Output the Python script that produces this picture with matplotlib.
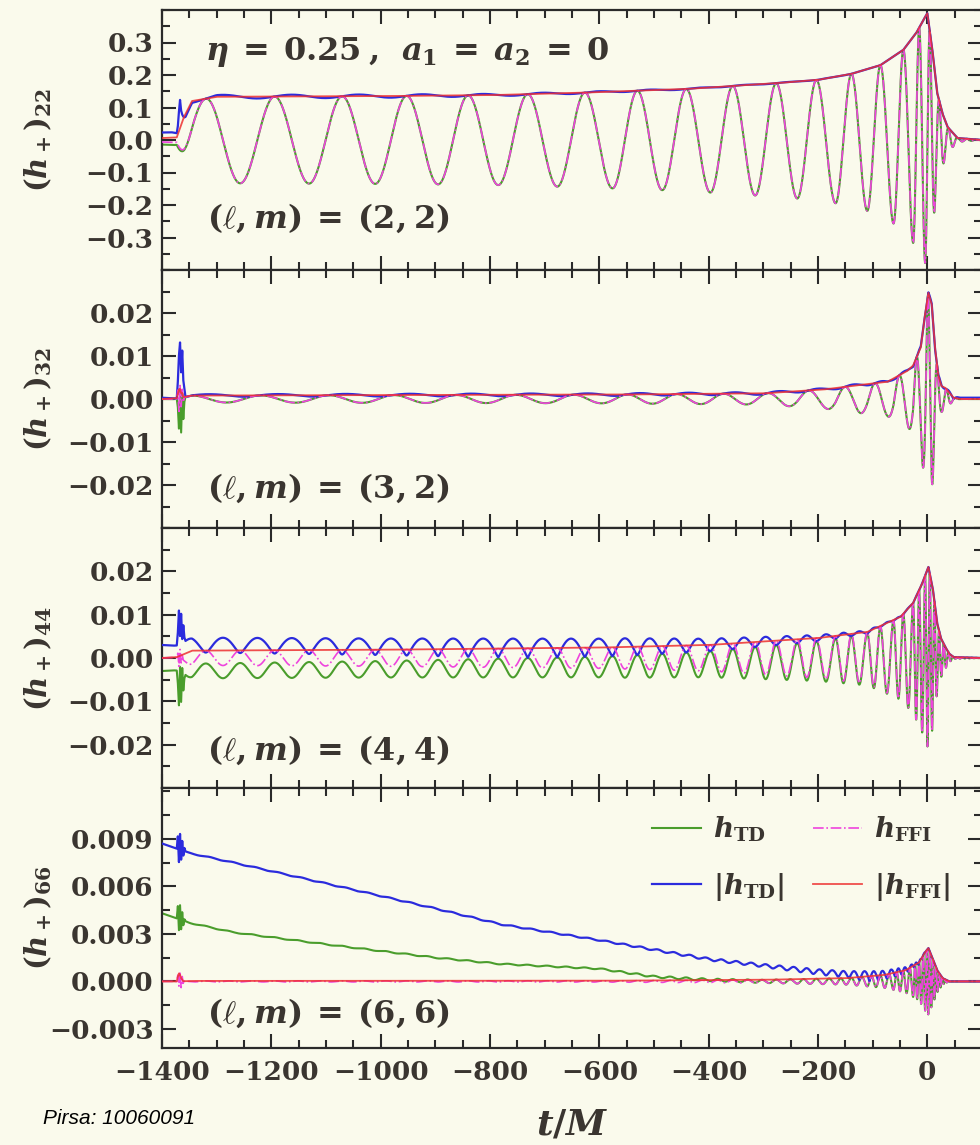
import numpy as np
import matplotlib
matplotlib.use("Agg")
import matplotlib.pyplot as plt
from matplotlib.ticker import MultipleLocator, FixedLocator, FuncFormatter

plt.rcParams['font.family'] = ['DejaVu Serif']
plt.rcParams['font.weight'] = 'bold'
plt.rcParams['mathtext.fontset'] = 'custom'
plt.rcParams['mathtext.rm'] = 'DejaVu Serif:bold'
plt.rcParams['mathtext.it'] = 'DejaVu Serif:italic:bold'
plt.rcParams['mathtext.bf'] = 'DejaVu Serif:bold'
plt.rcParams['mathtext.sf'] = 'DejaVu Serif:bold'
plt.rcParams['axes.unicode_minus'] = True

# ---------------------------------------------------------------- data
# times of the (2,2) troughs, t/M
troughs_22 = [-1383, -1257, -1131, -1010, -895, -785, -677, -576, -485, -397,
              -315, -238, -168, -110, -62, -26, -4, 13, 30, 47, 64, 81, 98, 115]

# amplitude |h_FFI| of each mode: (time, value) pairs
amp22_t = [-1400, -1373, -1360, -1345, -1300, -1000, -800, -640, -440, -275,
           -200, -140, -86, -44, -20, -7, 0, 9, 18, 28, 37, 55, 100]
amp22_v = [0.006, 0.008, 0.07, 0.12, 0.133, 0.135, 0.138, 0.145, 0.157, 0.175,
           0.185, 0.203, 0.23, 0.277, 0.33, 0.37, 0.39, 0.28, 0.145, 0.08, 0.04, 0.006, 0.0]

amp32_t = [-1400, -1373, -1345, -1000, -600, -300, -190, -128, -73, -37, -26,
           -12, -5, 2, 8, 14, 20, 26, 33, 40, 48, 60, 100]
amp32_v = [0.0, 0.0002, 0.0008, 0.0009, 0.001, 0.0013, 0.0022, 0.0032, 0.004,
           0.0065, 0.0078, 0.012, 0.019, 0.0247, 0.022, 0.012, 0.0055, 0.003,
           0.0026, 0.0015, 0.0003, 0.0, 0.0]

amp44_t = [-1400, -1373, -1345, -1000, -600, -400, -200, -110, -49, -26, -10,
           2, 10, 18, 25, 33, 40, 48, 100]
amp44_v = [0.0, 0.0002, 0.0017, 0.0019, 0.0024, 0.003, 0.0046, 0.006, 0.0095,
           0.0127, 0.017, 0.021, 0.016, 0.008, 0.0045, 0.0025, 0.001, 0.0002, 0.0]

amp66_t = [-1400, -1373, -1345, -600, -300, -150, -80, -40, -15, -5, 2, 10, 18, 28, 40, 100]
amp66_v = [0.0, 0.0, 0.00003, 0.00004, 0.0001, 0.0002, 0.0004, 0.0007, 0.0012,
           0.0018, 0.0021, 0.0014, 0.0007, 0.0002, 0.0, 0.0]

# drift of the time-domain integration: real part and modulus
drift22_t = [-1400, -1373, -1350, -1000, -500, -100, 100]
drift22_re = [-0.008, -0.008, 0.0, 0.0, 0.0, 0.0, 0.0]
drift22_abs = [0.02, 0.02, 0.006, 0.005, 0.002, 0.0, 0.0]

drift32_t = [-1400, 100]
drift32_re = [0.0, 0.0]
drift32_abs = [0.0003, 0.0003]

drift44_t = [-1400, -1340, -1000, -550, -200, -80, 0, 100]
drift44_re = [-0.003, -0.003, -0.0026, -0.002, -0.0007, -0.0002, 0.0, 0.0]
drift44_abs = [0.003, 0.003, 0.0026, 0.002, 0.0007, 0.0002, 0.0, 0.0]

drift66_t = [-1400, -1350, -1270, -1090, -900, -780, -600, -500, -400, -300,
             -200, -100, -40, 0, 100]
drift66_re = [0.0043, 0.0037, 0.0031, 0.0023, 0.0015, 0.0011, 0.0008, 0.0003,
              0.0001, 0.0, 0.0, 0.0, 0.0, 0.0, 0.0]
drift66_abs = [0.0087, 0.0081, 0.0075, 0.0061, 0.0046, 0.0036, 0.0026, 0.002,
               0.0014, 0.001, 0.0006, 0.0003, 0.0002, 0.0, 0.0]

# phase offsets relative to (m/2) * phi_22
phase_off = {'22': 0.0, '32': 0.4 * np.pi, '44': 0.0, '66': 0.0}
m_over_2 = {'22': 1.0, '32': 1.0, '44': 2.0, '66': 3.0}

# junk radiation burst at the start of the runs
burst_t = [-1373, -1371, -1369, -1367, -1365, -1363, -1361, -1359, -1357]
burst = {
    '22': {'td': [0] * 9, 'abs_td': [0, 0.02, 0.06, 0.09, 0.05, 0.03, 0.015, 0.005, 0],
           'ffi': [0] * 9, 'abs_ffi': [0] * 9},
    '32': {'td': [0, -0.002, -0.007, 0.002, -0.008, 0.001, -0.005, -0.001, 0],
           'abs_td': [0, 0.004, 0.010, 0.013, 0.006, 0.011, 0.004, 0.002, 0],
           'ffi': [0, 0.002, -0.003, 0.003, -0.002, 0.002, -0.001, 0, 0],
           'abs_ffi': [0, 0.001, 0.002, 0.002, 0.001, 0.001, 0, 0, 0]},
    '44': {'td': [0, -0.003, -0.008, 0.001, -0.007, 0.001, -0.004, -0.001, 0],
           'abs_td': [0, 0.003, 0.008, 0.002, 0.007, 0.001, 0.004, 0.001, 0],
           'ffi': [0, 0.001, -0.002, 0.002, -0.001, 0.001, 0, 0, 0],
           'abs_ffi': [0] * 9},
    '66': {'td': [0, 0.0008, -0.0007, 0.0009, -0.0006, 0.0005, -0.0003, 0.0001, 0],
           'abs_td': [0, 0.0008, -0.0008, 0.0010, -0.0006, 0.0006, -0.0003, 0.0002, 0],
           'ffi': [0, 0.0004, -0.0003, 0.0006, -0.0004, 0.0003, -0.0002, 0, 0],
           'abs_ffi': [0, 0.0003, 0.0005, 0.0004, 0.0002, 0.0001, 0, 0, 0]},
}

modes = ['22', '32', '44', '66']
amps = {'22': (amp22_t, amp22_v), '32': (amp32_t, amp32_v),
        '44': (amp44_t, amp44_v), '66': (amp66_t, amp66_v)}
drifts = {'22': (drift22_t, drift22_re, drift22_abs),
          '32': (drift32_t, drift32_re, drift32_abs),
          '44': (drift44_t, drift44_re, drift44_abs),
          '66': (drift66_t, drift66_re, drift66_abs)}
ylabels = {'22': r'$(h_+)_{22}$', '32': r'$(h_+)_{32}$',
           '44': r'$(h_+)_{44}$', '66': r'$(h_+)_{66}$'}
lm_text = {'22': r'$(\ell, m)\:=\:(2, 2)$', '32': r'$(\ell, m)\:=\:(3, 2)$',
           '44': r'$(\ell, m)\:=\:(4, 4)$', '66': r'$(\ell, m)\:=\:(6, 6)$'}
yticks = {'22': [-0.3, -0.2, -0.1, 0.0, 0.1, 0.2, 0.3],
          '32': [-0.02, -0.01, 0.0, 0.01, 0.02],
          '44': [-0.02, -0.01, 0.0, 0.01, 0.02],
          '66': [-0.003, 0.0, 0.003, 0.006, 0.009]}
yminor = {'22': 0.05, '32': 0.005, '44': 0.005, '66': 0.0015}
yfmt = {'22': '%.1f', '32': '%.2f', '44': '%.2f', '66': '%.3f'}
ylims = {'22': (-0.4, 0.4), '32': (-0.03, 0.03), '44': (-0.03, 0.03),
         '66': (-0.0042, 0.0122)}
lm_y = {'22': 0.20, '32': 0.155, '44': 0.146, '66': 0.135}

xticks = [-1400, -1200, -1000, -800, -600, -400, -200, 0]

# ---------------------------------------------------------------- style
BG = '#fafaec'
INK = '#3a3530'
C_TD = '#4a9d2c'
C_FFI = '#ee44dd'
C_ATD = '#2b2bdd'
C_AFFI = '#ee3030'

W, H = 980, 1145
fig = plt.figure(figsize=(W / 100, H / 100), dpi=100, facecolor=BG)

left_px, right_px = 162, 982
panel_px = [(10, 270), (270, 528), (528, 788), (788, 1048)]

t = np.arange(-1400.0, 100.01, 0.25)
phi22 = np.interp(t, troughs_22, np.pi * (2 * np.arange(len(troughs_22)) + 1))


def build_series(key):
    at, av = amps[key]
    dt, dre, dab = drifts[key]
    A = np.interp(t, at, av)
    cr = np.interp(t, dt, dre)
    ci = np.sqrt(np.clip(np.interp(t, dt, dab) ** 2 - cr ** 2, 0, None))
    ph = m_over_2[key] * phi22 + phase_off[key]
    h_ffi = A * np.cos(ph)
    h_td = h_ffi + cr
    abs_td = np.sqrt(h_td ** 2 + (A * np.sin(ph) + ci) ** 2)
    return {'td': h_td, 'abs_td': abs_td, 'ffi': h_ffi, 'abs_ffi': A}


def splice(y, offsets):
    bt = np.array(burst_t, dtype=float)
    pre = t < bt[0]
    post = t > bt[-1]
    yb = np.interp(bt, t, y) + np.array(offsets)
    return (np.concatenate([t[pre], bt, t[post]]),
            np.concatenate([y[pre], yb, y[post]]))


axes = []
for i, key in enumerate(modes):
    top, bot = panel_px[i]
    ax = fig.add_axes([left_px / W, 1 - bot / H, (right_px - left_px) / W, (bot - top) / H],
                      sharex=axes[0] if axes else None)
    axes.append(ax)
    ax.set_facecolor(BG)
    s = build_series(key)
    styles = [
        ('td', dict(color=C_TD, lw=1.5, ls='-', zorder=2), r'$h_{\rm TD}$'),
        ('abs_td', dict(color=C_ATD, lw=1.6, ls='-', zorder=3), r'$|h_{\rm TD}|$'),
        ('ffi', dict(color=C_FFI, lw=1.2, ls='-.', zorder=4), r'$h_{\rm FFI}$'),
        ('abs_ffi', dict(color=C_AFFI, lw=1.3, ls='-', zorder=5, alpha=0.85), r'$|h_{\rm FFI}|$'),
    ]
    handles = {}
    for name, kw, lab in styles:
        tx, yy = splice(s[name], burst[key][name])
        ln, = ax.plot(tx, yy, label=lab, **kw)
        handles[name] = ln

    ax.set_xlim(-1400, 100)
    ax.set_ylim(*ylims[key])
    ax.xaxis.set_major_locator(FixedLocator(xticks))
    ax.xaxis.set_minor_locator(MultipleLocator(50))
    ax.yaxis.set_major_locator(FixedLocator(yticks[key]))
    ax.yaxis.set_minor_locator(MultipleLocator(yminor[key]))
    fmt = yfmt[key]
    ax.yaxis.set_major_formatter(FuncFormatter(
        lambda v, p, f=fmt: (f % (0.0 if abs(v) < 1e-12 else v)).replace('-', '\u2212')))
    ax.tick_params(which='both', direction='in', top=True, right=True,
                   colors='#2a2a2a', labelcolor=INK, labelsize=19, width=1.5)
    ax.tick_params(which='major', length=10)
    ax.tick_params(which='minor', length=5.5)
    ax.tick_params(axis='y', pad=6)
    ax.tick_params(axis='x', pad=9)
    for sp in ax.spines.values():
        sp.set_linewidth(1.6)
        sp.set_color('#2a2a2a')
    if i < 3:
        ax.tick_params(axis='x', labelbottom=False)

    fig.text(38 / W, 1 - (top + bot) / 2 / H, ylabels[key], rotation=90,
             ha='center', va='center', fontsize=21, color=INK)
    ax.text(0.055, lm_y[key], lm_text[key], transform=ax.transAxes,
            ha='left', va='center', fontsize=23, color=INK)

    if key == '22':
        ax.text(0.052, 0.838, r'$\eta\:=\:0.25\:,\:\:a_1\:=\:a_2\:=\:0$', transform=ax.transAxes,
                ha='left', va='center', fontsize=23, color=INK)
    if key == '66':
        leg = ax.legend(handles=[handles['td'], handles['abs_td'], handles['ffi'], handles['abs_ffi']],
                        ncol=2, frameon=False, loc='upper right',
                        bbox_to_anchor=(0.975, 0.94), borderaxespad=0.0, fontsize=20,
                        handlelength=1.75, handletextpad=0.45, columnspacing=1.05,
                        labelspacing=0.95)
        for txt in leg.get_texts():
            txt.set_color(INK)

axes[-1].set_xlabel(r'$t/M$', fontsize=26, color=INK, labelpad=16)

fig.text(43 / W, 1 - 1118 / H, 'Pirsa: 10060091', fontsize=15, style='italic',
         family='Liberation Sans', weight='normal', color='black',
         ha='left', va='center')

fig.savefig('out.png', dpi=100, facecolor=BG)
